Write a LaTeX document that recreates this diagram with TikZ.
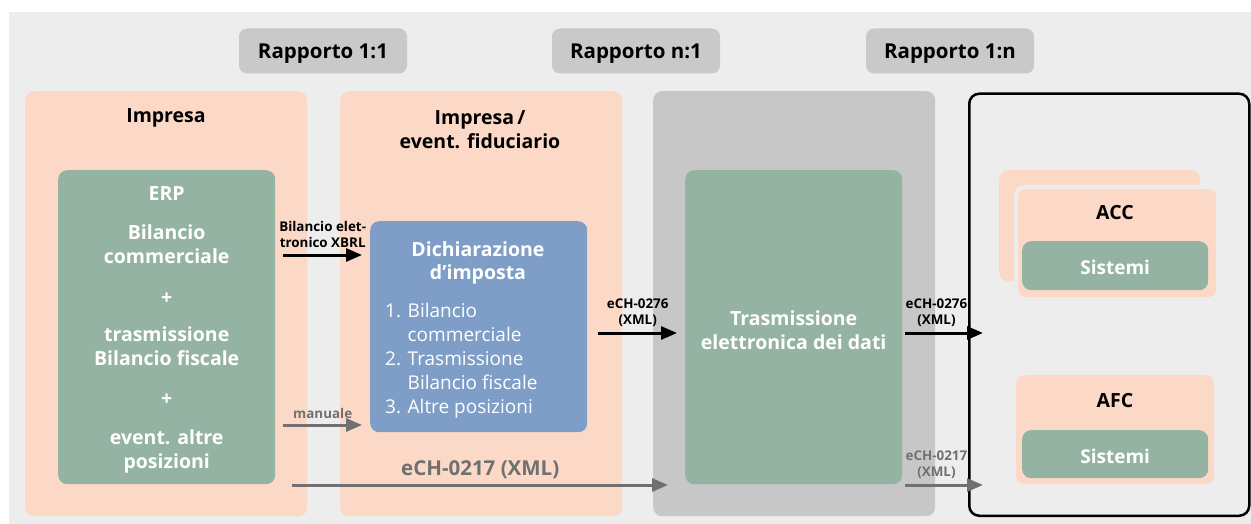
\documentclass[tikz,border=0pt]{standalone}
\usepackage{fontspec}
\setmainfont{Open Sans}
\usetikzlibrary{arrows.meta}

\definecolor{bggrey}{HTML}{ECEDEC}
\definecolor{tabgrey}{HTML}{C8C9C8}
\definecolor{colgrey}{HTML}{C6C7C6}
\definecolor{peach}{HTML}{FBD9C6}
\definecolor{sage}{HTML}{95B3A2}
\definecolor{steel}{HTML}{7E9EC7}
\definecolor{arrgrey}{HTML}{707070}

\tikzset{
  tab/.style={fill=tabgrey, rounded corners=8pt, minimum width=168pt, minimum height=45pt,
    inner sep=0pt, text height=14.6pt, text depth=0pt, font=\fontsize{20.5}{24}\selectfont\bfseries},
  panel/.style={fill=#1, rounded corners=9pt, anchor=north west, inner sep=0pt,
    minimum width=282pt, minimum height=425pt},
  head/.style={font=\fontsize{19.5}{24}\selectfont\bfseries, align=center, yshift=-3pt},
  inner/.style={fill=#1, rounded corners=9pt, anchor=north west, inner sep=0pt,
    text=white, align=center},
  systxt/.style={text=white, font=\fontsize{19}{20}\selectfont\bfseries, yshift=-2pt},
  lbl/.style={font=\fontsize{13.4}{15.5}\selectfont\bfseries, align=center, inner sep=1pt},
  blkarrow/.style={draw=black, line width=3pt, -{Triangle[length=16pt,width=13pt]}},
  gryarrow/.style={draw=arrgrey, line width=3pt, -{Triangle[length=16pt,width=13pt]}},
}

\begin{document}
\begin{tikzpicture}[x=1pt,y=-1pt]
\useasboundingbox (0,0) rectangle (1251,524);
\fill[bggrey] (9,12) rectangle (1251,524);

% relation tabs
\node[tab] (tab1) at (323,51) {Rapporto 1:1};
\node[tab] (tab2) at (636,51) {Rapporto n:1};
\node[tab] (tab3) at (950,51) {Rapporto 1:n};

% columns
\node[panel=peach] (col1) at (25,91) {};
\node[panel=peach] (col2) at (340,91) {};
\node[panel=colgrey] (col3) at (653,91) {};
\node[draw=black, line width=2.5pt, rounded corners=10pt, anchor=north west, inner sep=0pt,
  minimum width=280pt, minimum height=422pt] (col4) at (968,92.5) {};

\node[head] (imp) at (166,115) {Impresa};
\node[head] (fid) at (480,127) {Impresa\,/\\event. fiduciario};

% ERP
\node[inner=sage, minimum width=217pt, minimum height=314pt] (erp) at (58,170) {};
\node[head, text=white] (erptxt) at (erp.center)
  {ERP\\[15pt]Bilancio\\commerciale\\[17pt]+\\[13pt]trasmissione\\Bilancio fiscale\\[16pt]+\\[15pt]event. altre\\posizioni};

% tax declaration
\node[inner=steel, minimum width=217pt, minimum height=211pt] (decl) at (370,221) {};
\node[head, text=white, font=\fontsize{19.5}{23}\selectfont\bfseries] (decltit) at (478,260)
  {Dichiarazione\\d’imposta};
\node[text=white, align=left, anchor=north west, inner sep=0pt, font=\fontsize{19}{24}\selectfont] (decllist) at (385,303)
  {1. Bilancio\\\hphantom{1. }commerciale\\2. Trasmissione\\\hphantom{2. }Bilancio fiscale\\3. Altre posizioni};

% transmission
\node[inner=sage, minimum width=217pt, minimum height=314pt] (trasm) at (685,170) {};
\node[head, text=white] (trasmtxt) at (trasm.center) {Trasmissione\\elettronica dei dati};

% authorities
\node[inner=peach, minimum width=201pt, minimum height=111pt] (accback) at (999,170) {};
\node[inner=peach, draw=bggrey, line width=4pt, minimum width=202pt, minimum height=112pt] (acc) at (1014,185) {};
\node[head] (acctit) at (1115,210) {ACC};
\node[inner=sage, minimum width=186pt, minimum height=49pt] (sysacc) at (1022,241) {};
\node[systxt] at (sysacc.center) {Sistemi};

\node[inner=peach, minimum width=198pt, minimum height=109pt] (afc) at (1016,375) {};
\node[head] (afctit) at (1115,398) {AFC};
\node[inner=sage, minimum width=186pt, minimum height=48pt] (sysafc) at (1022,430) {};
\node[systxt] at (sysafc.center) {Sistemi};

% connectors
\draw[blkarrow] ([xshift=8pt]erp.east |- 0,255) -- ([xshift=-8pt]decl.west |- 0,255)
  node[lbl, midway, above=5pt] {Bilancio elet-\\tronico XBRL};
\draw[gryarrow] ([xshift=8pt]erp.east |- 0,425) -- ([xshift=-8pt]decl.west |- 0,425)
  node[lbl, midway, above=4pt, text=arrgrey] {manuale};
\draw[blkarrow] ([xshift=11pt]decl.east |- 0,333) -- ([xshift=-8pt]trasm.west |- 0,333)
  node[lbl, midway, above=4pt] {eCH-0276\\(XML)};
\draw[blkarrow] ([xshift=3pt]trasm.east |- 0,333) -- ([xshift=15pt]col4.west |- 0,333)
  node[lbl, pos=0.4, above=4pt] {eCH-0276\\(XML)};
\draw[gryarrow] ([xshift=17pt]erp.east |- 0,485) -- ([xshift=-17pt]trasm.west |- 0,485)
  node[pos=0.5, above=1pt, text=arrgrey, font=\fontsize{20.5}{24}\selectfont\bfseries] {eCH-0217 (XML)};
\draw[gryarrow] ([xshift=3pt]trasm.east |- 0,485) -- ([xshift=15pt]col4.west |- 0,485)
  node[lbl, pos=0.4, above=4pt, text=arrgrey] {eCH-0217\\(XML)};
\end{tikzpicture}
\end{document}
